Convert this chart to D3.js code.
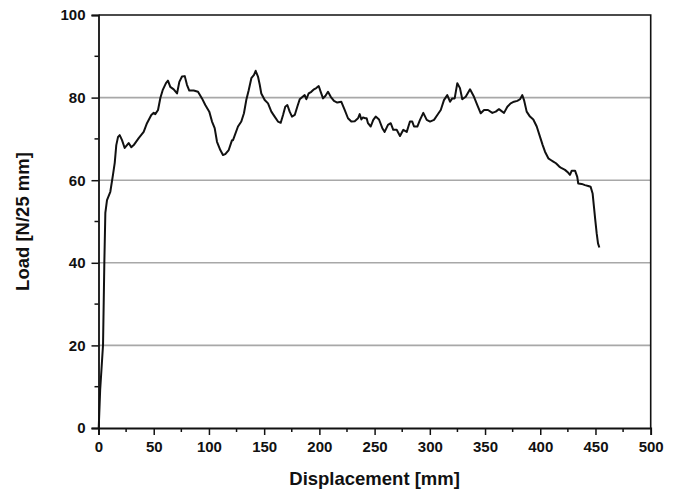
<!DOCTYPE html>
<html>
<head>
<script src="https://cdn.jsdelivr.net/npm/d3@7"></script>
<style>
  body { margin: 0; background: #fff; }
  text { font-family: "Liberation Sans", Arial, sans-serif; font-weight: bold; }
</style>
</head>
<body>
<div id="chart"></div>
<script>
// displacement [mm] and load [N/25 mm]
var displacement = [0.2, 0.7, 1.5, 4.1, 5.3, 6.2, 7.7, 10.7, 13.1, 14.7, 16.1, 17.7, 19.2, 21.3, 23.7, 25.8, 27.3, 29.7, 31.9,
    36.4, 40.9, 43.9, 47.8, 50.0, 51.4, 53.9, 56.0, 58.1, 61.1, 62.9, 65.0, 68.1, 71.1, 73.2, 75.6, 78.1, 80.1,
    82.2, 86.2, 90.1, 93.7, 96.7, 100.3, 102.8, 105.2, 107.3, 110.3, 112.7, 114.8, 117.9, 120.9,
    121.8, 126.3, 129.3, 131.7, 133.8, 136.0, 138.4, 140.8, 142.3, 144.4, 146.0, 147.4, 150.5, 153.5, 156.5,
    159.5, 162.5, 165.0, 167.1, 169.1, 171.0, 173.1, 175.2, 177.7, 180.0, 182.2, 184.3, 186.7, 188.2, 190.3,
    192.7, 195.1, 197.2, 199.4, 201.2, 203.3, 205.4, 207.8, 210.3, 213.2, 216.2, 219.8, 222.9, 225.9, 228.9,
    232.0, 235.0, 236.5, 238.0, 239.5, 241.6, 242.8, 244.0, 246.5, 248.8, 251.0, 254.0, 257.0, 259.1, 262.1,
    264.6, 266.9, 270.0, 273.0, 276.0, 279.1, 282.0, 284.1, 285.7, 288.7, 291.1, 294.1, 297.2, 300.2, 303.8,
    306.8, 309.9, 312.8, 315.8, 318.3, 320.3, 322.5, 324.9, 327.3, 329.4, 332.5, 336.4, 340.0, 343.0, 346.1,
    349.1, 352.7, 356.6, 359.7, 362.6, 365.6, 367.2, 370.2, 373.2, 376.2, 379.2, 381.7, 383.7, 385.3, 387.7,
    390.7, 393.7, 396.8, 399.8, 402.2, 404.3, 407.3, 409.5, 411.8, 414.2, 417.2, 419.4, 422.4, 425.4, 426.9,
    428.5, 431.5, 433.5, 434.4, 437.5, 440.5, 443.4, 445.6, 447.4, 448.6, 449.8, 451.1, 452.3, 453.5];
var load = [0, 3.5, 9.2, 20.1, 40.2, 52.1, 55.2, 57.2, 61.3, 64.2, 68.5, 70.5, 70.9, 69.7, 67.8, 68.5, 69.0, 68.0, 68.5,
    70.2, 71.7, 73.8, 75.8, 76.3, 76.0, 77.0, 79.9, 81.8, 83.5, 84.1, 82.6, 82.0, 81.0, 83.8, 85.1, 85.2, 83.1,
    81.7, 81.7, 81.4, 79.8, 78.2, 76.6, 74.2, 72.6, 69.3, 67.3, 66.1, 66.3, 67.3, 69.7,
    69.7, 73.0, 74.2, 76.2, 79.4, 81.8, 84.7, 85.5, 86.5, 85.1, 83.1, 81.0, 79.4, 78.6, 76.6,
    75.4, 74.2, 73.9, 75.8, 77.8, 78.2, 76.6, 75.4, 75.8, 77.8, 79.6, 80.1, 80.6, 79.6, 81.0,
    81.4, 82.0, 82.3, 82.8, 81.4, 79.8, 80.4, 81.4, 80.2, 79.2, 78.8, 79.0, 77.0, 75.0, 74.2,
    74.3, 75.0, 76.0, 74.7, 75.2, 75.0, 75.0, 73.8, 73.0, 74.6, 75.4, 74.7, 72.6, 71.7, 73.4,
    73.8, 72.2, 72.2, 70.7, 72.2, 71.7, 74.2, 74.2, 73.0, 73.0, 74.6, 76.3, 74.6, 74.2, 74.6,
    75.8, 77.0, 79.4, 80.6, 79.0, 79.8, 79.8, 83.5, 82.3, 79.6, 80.2, 82.0, 80.2, 78.2, 76.2,
    77.0, 77.0, 76.3, 76.6, 77.2, 76.6, 76.3, 77.8, 78.6, 79.0, 79.2, 79.6, 80.6, 79.4, 76.6,
    75.4, 74.7, 73.0, 70.5, 68.5, 66.9, 65.3, 64.9, 64.5, 64.1, 63.3, 62.9, 62.5, 61.8, 61.3,
    62.3, 62.3, 60.8, 59.2, 59.1, 58.8, 58.6, 58.4, 56.8, 53.6, 50.4, 47.1, 44.7, 43.7];

var xTicks = [0, 50, 100, 150, 200, 250, 300, 350, 400, 450, 500];
var yTicks = [0, 20, 40, 60, 80, 100];
var xMinor = [25, 75, 125, 175, 225, 275, 325, 375, 425, 475];
var yMinor = [10, 30, 50, 70, 90];
var gridLevels = [20, 40, 60, 80];

const W = 676, H = 495;
const mLeft = 98.5, mRight = 650.7, mTop = 15, mBottom = 428;

const svg = d3.select('#chart').append('svg')
    .attr('width', W)
    .attr('height', H);

const x = d3.scaleLinear().domain([0, 500]).range([mLeft, mRight]);
const y = d3.scaleLinear().domain([0, 100]).range([mBottom, mTop]);

// gridlines
svg.selectAll('line.grid')
    .data(gridLevels)
    .enter()
    .append('line')
    .attr('class', 'grid')
    .attr('x1', mLeft).attr('x2', mRight)
    .attr('y1', d => y(d)).attr('y2', d => y(d))
    .attr('stroke', '#a8a8a8')
    .attr('stroke-width', 1.6);

// frame: top and right
svg.append('path')
    .attr('d', `M${mLeft},${mTop}H${mRight}V${mBottom}`)
    .attr('fill', 'none')
    .attr('stroke', '#111')
    .attr('stroke-width', 1.6);

// minor ticks
svg.selectAll('line.xminor')
    .data(xMinor).enter().append('line')
    .attr('class', 'xminor')
    .attr('x1', d => x(d)).attr('x2', d => x(d))
    .attr('y1', mBottom).attr('y2', mBottom + 4)
    .attr('stroke', '#111').attr('stroke-width', 1.5);
svg.selectAll('line.yminor')
    .data(yMinor).enter().append('line')
    .attr('class', 'yminor')
    .attr('x1', mLeft - 4).attr('x2', mLeft)
    .attr('y1', d => y(d)).attr('y2', d => y(d))
    .attr('stroke', '#111').attr('stroke-width', 1.5);

// axes
const xAxis = svg.append('g')
    .attr('transform', `translate(0,${mBottom})`)
    .call(d3.axisBottom(x).tickValues(xTicks).tickSize(7).tickPadding(6));
const yAxis = svg.append('g')
    .attr('transform', `translate(${mLeft},0)`)
    .call(d3.axisLeft(y).tickValues(yTicks).tickSize(7).tickPadding(6));

[xAxis, yAxis].forEach(g => {
    g.select('.domain').attr('stroke', '#111').attr('stroke-width', 1.8);
    g.selectAll('.tick line').attr('stroke', '#111').attr('stroke-width', 1.5);
    g.selectAll('.tick text')
        .attr('fill', '#111')
        .style('font-size', '15px')
        .style('font-family', '"Liberation Sans", Arial, sans-serif')
        .style('font-weight', 'bold');
});

// data line
const line = d3.line()
    .x((d, i) => x(displacement[i]))
    .y(d => y(d));

svg.append('path')
    .datum(load)
    .attr('d', line)
    .attr('fill', 'none')
    .attr('stroke', '#111')
    .attr('stroke-width', 2)
    .attr('stroke-linejoin', 'round');

// titles
svg.append('text')
    .attr('x', (mLeft + mRight) / 2)
    .attr('y', 485)
    .attr('text-anchor', 'middle')
    .attr('fill', '#111')
    .style('font-size', '18.5px')
    .text('Displacement [mm]');

svg.append('text')
    .attr('transform', `translate(29,${(mTop + mBottom) / 2}) rotate(-90)`)
    .attr('text-anchor', 'middle')
    .attr('fill', '#111')
    .style('font-size', '18.5px')
    .text('Load [N/25 mm]');
</script>
</body>
</html>
